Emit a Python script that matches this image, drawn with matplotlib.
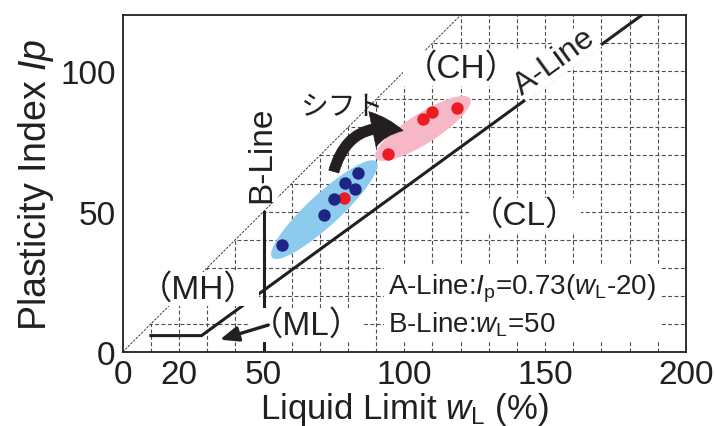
import numpy as np
import matplotlib
matplotlib.use('Agg')
import matplotlib.pyplot as plt
from matplotlib.patches import Ellipse, Polygon, FancyArrowPatch

plt.rcParams['font.family'] = ['Liberation Sans', 'Noto Sans CJK JP', 'DejaVu Sans']
plt.rcParams['mathtext.fontset'] = 'custom'
plt.rcParams['mathtext.rm'] = 'Liberation Sans'
plt.rcParams['mathtext.it'] = 'Liberation Sans:italic'
plt.rcParams['mathtext.bf'] = 'Liberation Sans:bold'

# data
blue_wl = [56.5, 71.5, 75.0, 78.9, 82.5, 83.7]
blue_ip = [38.0, 48.9, 54.6, 60.3, 58.2, 63.8]
red_wl = [78.6, 94.3, 106.7, 109.9, 118.6]
red_ip = [54.9, 70.4, 82.9, 85.6, 87.0]

# ellipse: centre x, centre y, length, thickness, angle
blue_zone = (71.6, 50.7, 50.4, 11.4, 42.7)
red_zone = (106.6, 79.6, 39.7, 10.7, 32.5)

a_line_start = 10
a_line_knee = 28
b_line_wl = 50
b_line_top = 50

x_ticks = [0, 20, 50, 100, 150, 200]
y_ticks = [0, 50, 100]
xmax, ymax = 200, 120

ink = '#231f20'

fig = plt.figure(figsize=(7.15, 4.27), dpi=100)
ax = fig.add_axes([0.1716, 0.1733, 0.9594 - 0.1716, 0.9625 - 0.1733])
ax.set_xlim(0, xmax)
ax.set_ylim(0, ymax)

# grid only below the Ip = wL line
clip = Polygon([(0, 0), (xmax, 0), (xmax, ymax), (ymax, ymax)], closed=True,
               transform=ax.transData, fc='none', ec='none')
grid_x = np.arange(10, xmax, 10)
grid_y = np.arange(10, ymax, 10)
gv = ax.vlines(grid_x, 0, ymax, colors='#4d4d4d', linestyles=(0, (3.5, 2.2)), lw=0.8, zorder=1)
gh = ax.hlines(grid_y, 0, xmax, colors='#4d4d4d', linestyles=(0, (3.5, 2.2)), lw=0.8, zorder=1)
gv.set_clip_path(clip)
gh.set_clip_path(clip)

# Ip = wL limit line
ax.plot([0, xmax], [0, xmax], color=ink, lw=0.6, ls=(0, (3, 1.5)), zorder=1)

# A-line with the horizontal part, B-line
knee_ip = 0.73 * (a_line_knee - 20)
ax.plot([a_line_start, a_line_knee, xmax], [knee_ip, knee_ip, 0.73 * (xmax - 20)],
        color=ink, lw=2.2, zorder=3, solid_joinstyle='miter')
ax.plot([b_line_wl, b_line_wl], [0, b_line_top], color=ink, lw=2.2, zorder=3)

for (cx, cy, w, h, ang), col in [(blue_zone, '#8ccbee'), (red_zone, '#f6b8c6')]:
    ax.add_patch(Ellipse((cx, cy), w, h, angle=ang, fc=col, ec='none', zorder=2))

ax.scatter(red_wl, red_ip, s=80, color='#ec1c24', zorder=4, linewidths=0)
ax.scatter(blue_wl, blue_ip, s=80, color='#1f2586', zorder=5, linewidths=0)

box = dict(fc='white', ec='none', pad=1)
ax.text(120.4, 101, '（CH）', fontsize=24, ha='center', va='center', color=ink, bbox=box, zorder=3)
ax.text(142.8, 48.7, '（CL）', fontsize=24, ha='center', va='center', color=ink, bbox=box, zorder=3)
ax.text(26.9, 22.5, '（MH）', fontsize=24, ha='center', va='center', color=ink, bbox=box, zorder=3)
ax.text(65.3, 9.6, '（ML）', fontsize=24, ha='center', va='center', color=ink, bbox=box, zorder=3)
ax.text(153.5, 103.5, 'A-Line', fontsize=23, ha='center', va='center', rotation=36,
        rotation_mode='anchor', color=ink, bbox=dict(fc='white', ec='none', pad=0.5), zorder=3)
ax.text(49.3, 70.7, 'B-Line', fontsize=24, ha='center', va='center', rotation=90,
        color=ink, bbox=dict(fc='white', ec='none', pad=0.5), zorder=3)
ax.text(77.6, 87.5, 'シフト', fontsize=20, ha='center', va='center', color=ink,
        family=['Noto Sans CJK JP'], zorder=6)
ax.text(94.2, 16.8, 'A-Line:$I_{\\rm p}$=0.73($w_{\\rm L}$-20)\nB-Line:$w_{\\rm L}$=50',
        fontsize=20, ha='left', va='center', linespacing=1.25, color=ink,
        bbox=dict(fc='white', ec='none', pad=3), zorder=3)

# arrows
ax.add_patch(FancyArrowPatch((74.7, 63.3), (100.5, 78.6), connectionstyle='arc3,rad=-0.5',
                             arrowstyle='simple,head_length=2.2,head_width=2.6,tail_width=0.75',
                             mutation_scale=10, fc=ink, ec=ink, lw=0.5, zorder=6))
ax.annotate('', xy=(34.5, 4.4), xytext=(51.7, 9.6),
            arrowprops=dict(arrowstyle='-|>,head_length=1.1,head_width=0.45', color=ink,
                            lw=2.4, shrinkA=0, shrinkB=0), zorder=6)

ax.set_xticks(x_ticks)
ax.set_yticks(y_ticks)
ax.tick_params(length=0, labelsize=24, colors=ink, pad=5)
ax.tick_params(axis='y', pad=5)
for s in ax.spines.values():
    s.set_linewidth(1.3)
    s.set_color(ink)
    s.set_zorder(7)

ax.set_xlabel('Liquid Limit $w_{\\rm L}$ (%)', fontsize=25, color=ink, labelpad=0)
ax.set_ylabel('Plasticity Index $Ip$', fontsize=27, color=ink, labelpad=3)

fig.savefig('out.png', dpi=100)
